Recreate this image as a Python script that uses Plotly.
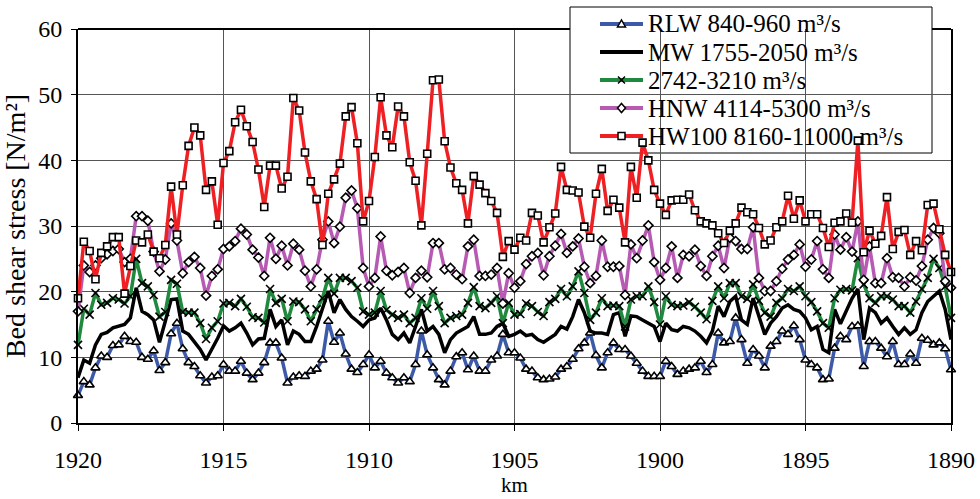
import plotly.graph_objects as go

km = [round(1920 - 0.2 * i, 1) for i in range(151)]

rlw = [4.2, 6.3, 5.8, 8.4, 10.2, 10.0, 11.8, 11.9, 13.2, 12.4,
       12.3, 10.0, 9.7, 11.0, 8.0, 9.2, 13.6, 15.2, 11.3, 9.2,
       8.6, 7.2, 6.1, 7.0, 7.2, 8.9, 7.9, 7.9, 9.4, 7.6,
       6.6, 7.6, 9.2, 12.2, 12.2, 9.9, 6.1, 7.0, 7.2, 7.1,
       7.9, 8.2, 9.6, 15.5, 12.3, 13.7, 10.5, 8.2, 7.7, 8.9,
       10.4, 8.4, 9.4, 7.6, 6.9, 6.1, 6.9, 6.3, 8.9, 14.0,
       10.4, 8.4, 6.6, 5.8, 7.9, 10.1, 10.7, 8.1, 10.2, 7.9,
       7.9, 9.6, 10.2, 13.5, 10.7, 10.7, 9.9, 8.2, 7.9, 6.9,
       6.6, 6.7, 7.0, 8.2, 8.6, 9.7, 11.3, 12.2, 13.7, 10.3,
       8.4, 10.7, 12.2, 11.2, 11.2, 10.2, 9.1, 7.9, 7.1, 7.1,
       7.1, 9.4, 8.6, 7.4, 7.9, 8.2, 8.4, 9.4, 7.7, 8.9,
       13.7, 12.2, 12.4, 16.0, 12.7, 9.1, 11.2, 10.2, 8.4, 11.7,
       12.4, 14.0, 13.5, 14.8, 12.7, 9.6, 8.9, 8.4, 6.6, 6.7,
       11.4, 13.2, 12.7, 14.7, 14.8, 8.6, 12.4, 12.4, 11.4, 10.1,
       12.4, 8.9, 8.9, 10.5, 9.1, 12.9, 12.6, 11.9, 12.2, 11.3,
       8.1]

mw = [6.9, 9.6, 9.1, 11.9, 13.5, 13.8, 14.5, 14.7, 15.0, 16.0,
      20.6, 17.0, 16.5, 15.7, 12.3, 15.5, 18.8, 18.9, 14.0, 13.5,
      12.4, 11.2, 9.6, 11.2, 12.9, 14.8, 14.0, 14.5, 15.2, 13.7,
      11.9, 12.8, 12.9, 17.3, 14.7, 15.7, 11.9, 14.0, 13.5, 12.4,
      12.4, 14.7, 17.3, 20.1, 16.8, 18.8, 17.3, 16.2, 15.5, 14.7,
      15.7, 16.0, 17.5, 15.7, 13.5, 12.7, 13.7, 12.2, 14.7, 17.3,
      14.0, 14.7, 13.5, 10.7, 12.7, 13.7, 14.2, 14.7, 16.2, 13.5,
      13.5, 13.7, 14.7, 15.2, 13.2, 13.5, 14.0, 13.3, 13.5, 12.7,
      12.3, 12.9, 13.5, 14.7, 14.3, 16.2, 18.8, 16.8, 14.0, 13.7,
      13.7, 13.5, 16.5, 16.8, 13.2, 16.3, 16.2, 15.7, 15.2, 14.7,
      12.4, 15.2, 14.2, 14.0, 14.7, 14.5, 14.0, 13.2, 12.2, 14.0,
      17.8, 16.2, 18.5, 19.3, 15.7, 15.0, 19.0, 16.2, 13.5, 15.2,
      16.2, 17.5, 18.0, 17.3, 17.0, 16.0, 14.2, 14.7, 11.2, 10.7,
      17.3, 15.1, 17.0, 19.0, 20.4, 12.7, 17.5, 16.8, 15.2, 16.0,
      14.7, 13.5, 14.5, 13.5, 14.2, 16.8, 18.5, 19.3, 20.1, 17.3,
      12.7]

q2742 = [11.9, 17.4, 16.5, 19.8, 18.0, 18.3, 19.0, 18.8, 18.2, 19.3,
         25.0, 21.3, 20.8, 19.5, 16.2, 16.9, 21.8, 21.2, 16.9, 16.8,
         16.8, 15.2, 12.8, 14.5, 15.5, 18.2, 18.3, 17.8, 18.9, 17.7,
         16.1, 16.0, 15.3, 20.4, 18.3, 18.9, 15.5, 18.5, 18.4, 17.3,
         15.5, 17.3, 19.0, 22.1, 19.7, 22.1, 22.1, 21.6, 20.6, 17.0,
         16.5, 16.8, 20.1, 17.2, 16.5, 16.0, 16.5, 15.2, 16.0, 19.0,
         17.4, 20.1, 17.8, 15.2, 16.0, 16.3, 16.5, 18.3, 20.7, 17.8,
         17.5, 18.3, 19.3, 15.2, 18.3, 16.5, 16.6, 18.2, 17.8, 16.9,
         16.3, 18.4, 18.9, 20.4, 19.3, 20.8, 23.1, 19.8, 15.7, 16.8,
         19.0, 17.8, 17.9, 17.8, 14.7, 18.8, 19.3, 19.3, 20.8, 18.4,
         15.0, 19.3, 18.0, 17.8, 17.9, 18.4, 17.7, 16.8, 15.8, 18.6,
         20.8, 19.0, 21.3, 21.3, 19.3, 18.9, 21.1, 18.6, 16.8, 16.2,
         18.3, 19.0, 20.4, 20.1, 20.8, 19.3, 18.4, 17.0, 15.2, 14.5,
         19.0, 20.3, 20.4, 20.2, 25.1, 21.1, 19.0, 18.3, 19.3, 19.3,
         18.8, 17.8, 17.8, 16.8, 18.5, 20.4, 22.1, 25.0, 23.6, 20.8,
         16.0]

hnw = [17.0, 24.0, 23.0, 24.0, 25.1, 25.7, 26.2, 26.5, 24.5, 25.0,
       31.5, 31.5, 30.8, 26.1, 23.1, 24.9, 30.4, 27.8, 22.8, 24.5,
       25.3, 23.6, 19.4, 22.4, 23.4, 26.5, 26.9, 27.7, 29.6, 28.7,
       26.4, 25.2, 22.4, 28.2, 25.0, 27.0, 24.0, 27.3, 26.4, 23.2,
       20.8, 23.4, 27.9, 30.7, 27.4, 29.9, 34.3, 35.4, 32.7, 23.6,
       20.8, 22.1, 28.4, 23.2, 22.5, 23.0, 23.6, 19.8, 22.1, 23.2,
       22.2, 27.4, 27.4, 23.4, 23.6, 22.6, 21.9, 26.9, 27.9, 22.4,
       22.4, 22.6, 23.6, 18.2, 22.8, 20.6, 21.6, 24.2, 25.4, 25.9,
       22.5, 25.4, 27.0, 28.8, 25.9, 26.9, 28.1, 23.8, 21.3, 22.4,
       27.8, 23.8, 23.8, 23.9, 19.5, 27.2, 25.1, 27.8, 30.1, 24.5,
       21.8, 23.6, 26.9, 22.1, 25.6, 25.4, 26.4, 23.9, 22.4, 25.4,
       27.0, 23.6, 28.2, 27.7, 26.5, 26.5, 29.8, 22.1, 20.1, 20.1,
       21.6, 23.5, 24.9, 25.6, 27.2, 23.8, 24.9, 27.7, 23.4, 22.1,
       28.7, 26.4, 28.3, 26.1, 30.7, 21.8, 26.9, 21.3, 21.3, 25.1,
       22.2, 22.1, 20.8, 22.2, 21.7, 23.9, 27.9, 29.7, 28.9, 21.6,
       20.6]

hw100 = [19.0, 27.6, 26.2, 21.9, 25.9, 26.9, 28.3, 28.3, 19.7, 23.9,
         27.8, 27.5, 28.7, 26.1, 25.1, 27.1, 36.0, 28.7, 36.2, 42.2,
         45.0, 43.8, 35.5, 36.8, 30.2, 39.6, 41.4, 45.8, 47.7, 45.2,
         42.8, 38.6, 32.9, 39.2, 39.2, 35.7, 37.5, 49.5, 47.6, 41.2,
         36.8, 34.1, 27.1, 34.9, 37.1, 39.5, 46.7, 48.1, 42.6, 30.7,
         33.8, 40.5, 49.6, 43.8, 42.0, 48.2, 46.7, 39.7, 36.9, 30.1,
         41.0, 52.2, 52.3, 42.9, 38.9, 36.5, 35.5, 30.4, 37.6, 36.3,
         35.0, 33.8, 32.0, 25.3, 27.7, 26.4, 28.2, 27.8, 32.0, 31.6,
         27.5, 29.8, 31.9, 39.0, 35.5, 35.4, 35.1, 29.9, 28.2, 34.9,
         38.7, 32.3, 34.0, 32.8, 27.5, 39.0, 34.3, 42.7, 40.0, 35.5,
         33.4, 31.7, 33.9, 34.0, 34.0, 34.8, 32.4, 30.7, 30.4, 30.1,
         28.9, 27.4, 29.3, 30.4, 32.8, 32.1, 31.8, 29.7, 27.2, 27.8,
         29.8, 30.7, 34.6, 31.1, 33.9, 30.7, 31.8, 31.8, 29.7, 26.8,
         30.5, 30.7, 31.9, 30.5, 43.0, 26.0, 29.3, 27.3, 28.5, 34.4,
         26.5, 29.1, 29.4, 25.6, 27.7, 26.3, 33.2, 33.4, 29.5, 25.6,
         23.0]

names = ["RLW 840-960 m³/s", "MW 1755-2050 m³/s", "2742-3210 m³/s",
         "HNW 4114-5300 m³/s", "HW100 8160-11000 m³/s"]
colors = ["#3d5aa8", "#000000", "#1f8a3e", "#b75ab4", "#ee2024"]
series = [rlw, mw, q2742, hnw, hw100]
symbols = ["triangle-up", None, "x-thin", "diamond", "square"]
msizes = [8, 0, 8, 7, 7]

FONT = "Liberation Serif"

L, R, T, B = 78, 951, 29, 423
W, H = 980, 499
pw, ph = R - L, B - T

def px2x(p):
    return (p - L) / pw

def py2y(p):
    return (B - p) / ph

fig = go.Figure()
for name, col, ys, sym, ms in zip(names, colors, series, symbols, msizes):
    if sym is None:
        fig.add_trace(go.Scatter(x=km, y=ys, name=name, mode="lines",
                                 line=dict(color=col, width=3.5), cliponaxis=False,
                                 showlegend=False))
    else:
        fill = "black" if sym == "x-thin" else "white"
        fig.add_trace(go.Scatter(x=km, y=ys, name=name, mode="lines+markers",
                                 line=dict(color=col, width=3.5),
                                 marker=dict(symbol=sym, size=ms, color=fill,
                                             line=dict(color="black", width=1.6)),
                                 cliponaxis=False, showlegend=False))

# ---- hand-made legend (box under the data, like the original) ----
leg_y = [24, 52, 80, 108, 136]
fig.add_shape(type="rect", xref="paper", yref="paper",
              x0=px2x(570), x1=px2x(932), y0=py2y(153), y1=py2y(7),
              fillcolor="white", line=dict(color="black", width=1), layer="between")
for yy, col in zip(leg_y, colors):
    fig.add_shape(type="line", xref="paper", yref="paper",
                  x0=px2x(600), x1=px2x(643), y0=py2y(yy), y1=py2y(yy),
                  line=dict(color=col, width=4), layer="between")
for yy, name in zip(leg_y, names):
    fig.add_annotation(xref="paper", yref="paper", x=px2x(646), y=py2y(yy),
                       text=name, showarrow=False, xanchor="left", yanchor="middle",
                       font=dict(family=FONT, size=25, color="black"))

def path(pts):
    return "M " + " L ".join(f"{px2x(a):.5f},{py2y(b):.5f}" for a, b in pts) + " Z"

cx = 621.5
for yy, sym in zip(leg_y, symbols):
    mk = dict(xref="paper", yref="paper", layer="above",
              line=dict(color="black", width=1.5))
    if sym == "triangle-up":
        fig.add_shape(type="path", path=path([(cx - 4, yy + 3), (cx + 4, yy + 3), (cx, yy - 4)]),
                      fillcolor="white", **mk)
    elif sym == "diamond":
        fig.add_shape(type="path", path=path([(cx, yy - 4.5), (cx + 4, yy), (cx, yy + 4.5), (cx - 4, yy)]),
                      fillcolor="white", **mk)
    elif sym == "square":
        fig.add_shape(type="rect", x0=px2x(cx - 3.5), x1=px2x(cx + 3.5),
                      y0=py2y(yy + 3.5), y1=py2y(yy - 3.5), fillcolor="white", **mk)
    elif sym == "x-thin":
        for d in (1, -1):
            fig.add_shape(type="line", x0=px2x(cx - 3.5), x1=px2x(cx + 3.5),
                          y0=py2y(yy - 3.5 * d), y1=py2y(yy + 3.5 * d), **mk)

# top border (the part not covered by the legend box)
for a, b in [(L, 570), (932, R)]:
    fig.add_shape(type="line", xref="paper", yref="paper",
                  x0=px2x(a), x1=px2x(b), y0=1, y1=1,
                  line=dict(color="black", width=2), layer="above")

# x-axis title
fig.add_annotation(xref="paper", yref="paper", x=0.5, y=py2y(498),
                   text="km", showarrow=False, xanchor="center", yanchor="bottom",
                   borderpad=0, font=dict(family=FONT, size=21, color="black"))

fig.update_layout(
    width=W, height=H,
    margin=dict(l=L, r=W - R, t=T, b=H - B),
    paper_bgcolor="white", plot_bgcolor="white",
    font=dict(family=FONT, size=24, color="black"),
    showlegend=False,
    xaxis=dict(range=[1920, 1890], tickmode="array",
               tickvals=[1920, 1915, 1910, 1905, 1900, 1895, 1890],
               ticktext=["1920", "1915", "1910", "1905", "1900", "1895", "1890"],
               showgrid=True, gridcolor="#555555", gridwidth=1,
               showline=True, linecolor="black", linewidth=2, mirror=False,
               ticks="outside", ticklen=6, tickcolor="black",
               zeroline=False, ticklabelstandoff=8, automargin=False,
               tickfont=dict(family=FONT, size=24)),
    yaxis=dict(range=[0, 60], tickmode="array",
               tickvals=[0, 10, 20, 30, 40, 50, 60],
               showgrid=True, gridcolor="#555555", gridwidth=1,
               showline=True, linecolor="black", linewidth=2, mirror=True,
               ticks="outside", ticklen=5, tickcolor="black",
               zeroline=False, ticklabelstandoff=4, automargin=False,
               title=dict(text="Bed shear stress [N/m²]", font=dict(family=FONT, size=28)),
               tickfont=dict(family=FONT, size=24)),
)

fig.write_html("out.html")
